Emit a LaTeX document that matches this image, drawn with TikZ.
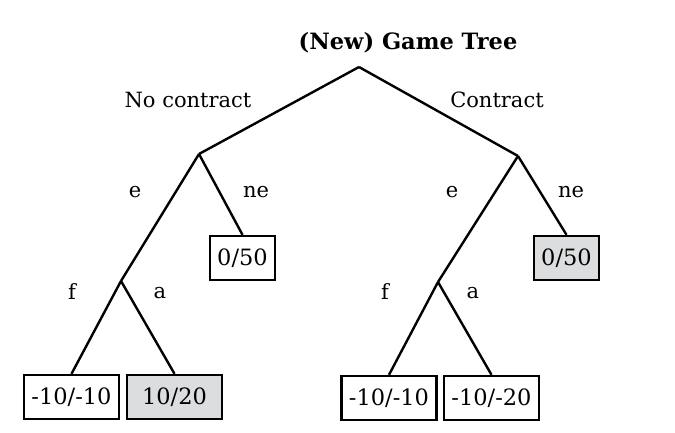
\documentclass[tikz,border=0pt]{standalone}
\usepackage{fontspec}
\setmainfont{DejaVu Serif}
\definecolor{leafgray}{RGB}{220,221,222}
\begin{document}
\begin{tikzpicture}[x=1pt, y=-1pt, line width=2.4pt, font=\fontsize{21}{25}\selectfont,
	leaf node/.style={draw, rectangle, minimum height=44pt, inner xsep=2pt, line width=2.4pt, font=\fontsize{22.5}{26}\selectfont},
	best node/.style={leaf node, fill=leafgray}]
	\useasboundingbox (0,0) rectangle (675,433);
	\node[font=\fontsize{22.5}{26}\selectfont\bfseries] (title) at (408,43) {(New) Game Tree};

	\coordinate (root) at (359,67);
	\coordinate (L) at (199,154);
	\coordinate (R) at (518,156);
	\coordinate (LE) at (121,281);
	\coordinate (RE) at (438,282);

	\node[leaf node, minimum width=65pt] (LNE) at (242.5,258) {0/50};
	\node[best node, minimum width=65pt] (RNE) at (566.5,258) {0/50};
	\node[leaf node, minimum width=95pt] (LEF) at (71.5,397) {-10/-10};
	\node[best node, minimum width=95pt] (LEA) at (174.5,397) {10/20};
	\node[leaf node, minimum width=95pt] (REF) at (389,398) {-10/-10};
	\node[leaf node, minimum width=95pt] (REA) at (491.5,398) {-10/-20};

	\path
		(root) edge (L)
			edge (R)
		(L) edge (LE)
			edge (LNE.north)
		(R) edge (RE)
			edge (RNE.north)
		(LE) edge (LEF.north)
			edge (LEA.north)
		(RE) edge (REF.north)
			edge (REA.north);

	\node (nc) at (188,100) {No contract};
	\node (c) at (497,100) {Contract};
	\node (le) at (135,192) {e};
	\node (lne) at (256,192) {ne};
	\node (re) at (452,192) {e};
	\node (rne) at (571,192) {ne};
	\node (lf) at (72,292) {f};
	\node (la) at (160,293) {a};
	\node (rf) at (385,292) {f};
	\node (ra) at (473,293) {a};
\end{tikzpicture}
\end{document}
